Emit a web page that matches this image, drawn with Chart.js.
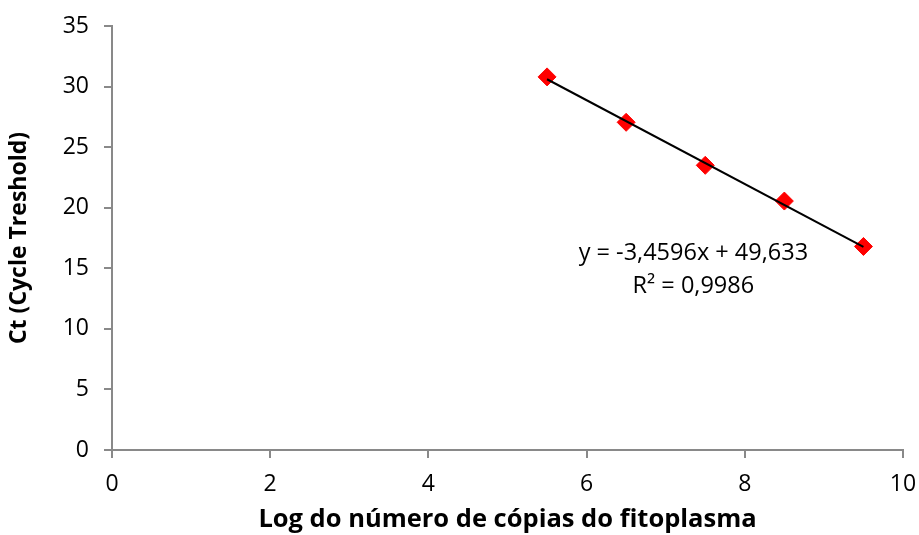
<!DOCTYPE html>
<html>
<head>
<meta charset="utf-8">
<script src="https://cdn.jsdelivr.net/npm/chart.js@4.4.1/dist/chart.umd.min.js"></script>
<style>
  html, body { margin: 0; padding: 0; background: #fff; }
  #wrap { width: 919px; height: 535px; }
</style>
</head>
<body>
<div id="wrap"><canvas id="chart" width="919" height="535"></canvas></div>
<script>
// log of copy number vs Ct
const logCopies = [5.5, 6.5, 7.5, 8.5, 9.5];
const ctValues = [30.8, 27.05, 23.5, 20.55, 16.8];

// linear trendline (Excel): y = -3,4596x + 49,633
const trendX = [5.5, 9.5];
const trendY = [30.605, 16.767];
const equationLabel = 'y = -3,4596x + 49,633';
const r2Label = 'R² = 0,9986';

const axisGray = '#898989';
const fontFamily = '"Open Sans", "Liberation Sans", sans-serif';

const equationPlugin = {
  id: 'equation',
  afterDatasetsDraw(chart) {
    const ctx = chart.ctx;
    const x = chart.scales.x;
    const y = chart.scales.y;
    ctx.save();
    ctx.fillStyle = '#000';
    ctx.font = '23.5px ' + fontFamily;
    ctx.textAlign = 'center';
    ctx.textBaseline = 'middle';
    const cx = x.getPixelForValue(7.35);
    ctx.fillText(equationLabel, cx, y.getPixelForValue(16.2));
    ctx.fillText(r2Label, cx, y.getPixelForValue(13.55));
    ctx.restore();
  }
};

const ctx = document.getElementById('chart').getContext('2d');
new Chart(ctx, {
  type: 'scatter',
  data: {
    datasets: [{
      label: 'Ct',
      data: logCopies.map((v, i) => ({ x: v, y: ctValues[i] })),
      pointStyle: 'rectRot',
      pointRadius: 9,
      pointHoverRadius: 9,
      backgroundColor: '#ff0000',
      borderColor: '#ff0000',
      borderWidth: 1,
      order: 1
    }, {
      label: 'Linear',
      type: 'line',
      data: trendX.map((v, i) => ({ x: v, y: trendY[i] })),
      borderColor: '#000',
      borderWidth: 2,
      pointRadius: 0,
      fill: false,
      order: 0
    }]
  },
  options: {
    responsive: false,
    animation: false,
    layout: { padding: { top: 26, right: 16, left: 0, bottom: 0 } },
    plugins: {
      legend: { display: false },
      tooltip: { enabled: false }
    },
    scales: {
      x: {
        type: 'linear',
        min: 0,
        max: 10,
        ticks: { stepSize: 2, color: '#000', padding: 13, font: { family: fontFamily, size: 23 } },
        grid: { drawOnChartArea: false, drawTicks: true, tickLength: 8, color: axisGray, lineWidth: 2 },
        border: { color: axisGray, width: 2 },
        title: {
          display: true,
          text: 'Log do número de cópias do fitoplasma',
          color: '#000',
          font: { family: fontFamily, size: 25.5, weight: 'bold' },
          padding: { top: 5, bottom: 0 }
        },
        afterFit(scale) {
          scale.height = 85;
          scale.paddingLeft = 0;
          scale.paddingRight = 0;
        }
      },
      y: {
        min: 0,
        max: 35,
        ticks: { stepSize: 5, color: '#000', padding: 15, font: { family: fontFamily, size: 23 } },
        grid: { drawOnChartArea: false, drawTicks: true, tickLength: 8, color: axisGray, lineWidth: 2 },
        border: { color: axisGray, width: 2 },
        title: {
          display: true,
          text: 'Ct (Cycle Treshold)',
          color: '#000',
          font: { family: fontFamily, size: 23, weight: 'bold' },
          padding: { top: 6, bottom: 10 }
        },
        afterFit(scale) {
          scale.width = 112;
          scale.paddingTop = 0;
          scale.paddingBottom = 0;
        }
      }
    }
  },
  plugins: [equationPlugin]
});
</script>
</body>
</html>
